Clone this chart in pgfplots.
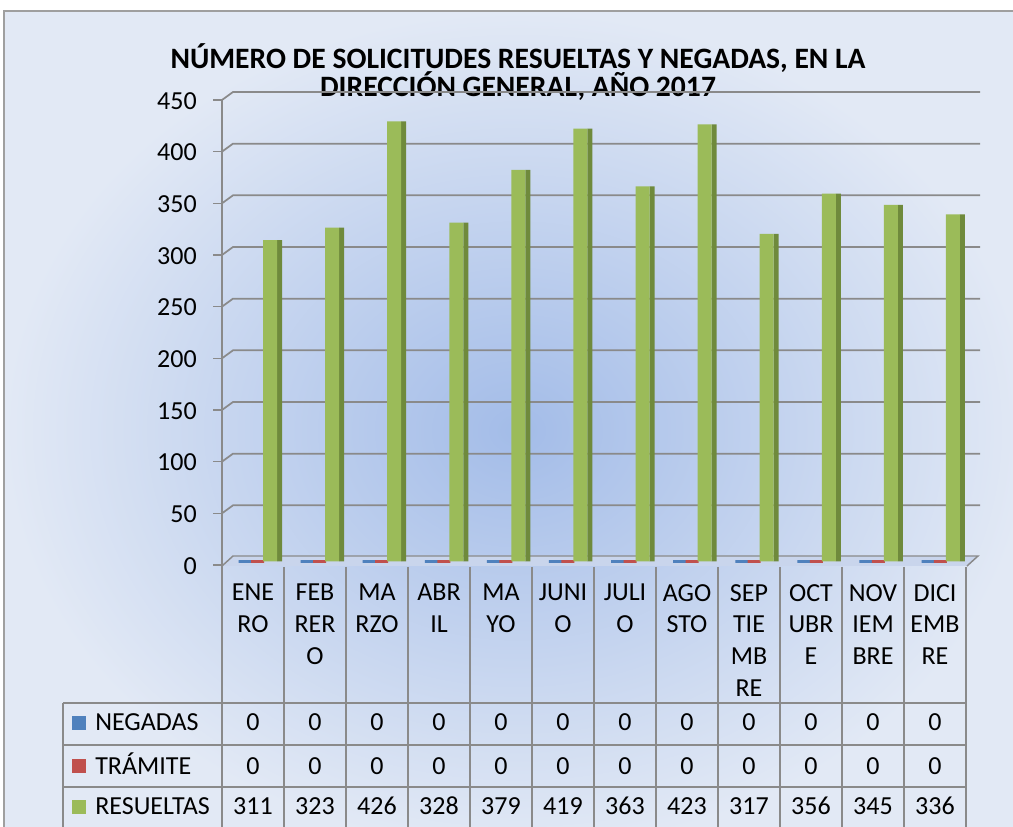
\documentclass[border=0pt]{standalone}
\usepackage{pgfplots}
\pgfplotsset{compat=1.18}
\usepackage{pgfplotstable}
\usepackage{fontspec}
\setmainfont{Carlito}
\definecolor{neg}{HTML}{4F81BD}
\definecolor{tra}{HTML}{C0504D}
\definecolor{res}{HTML}{9BBB59}
\definecolor{resside}{HTML}{6F8A3C}
\definecolor{bgC}{HTML}{A3BCE8}
\definecolor{bgE}{HTML}{E2E9F5}
\definecolor{gridC}{HTML}{8A8A8A}
\definecolor{floorC}{HTML}{C9D5EC}
\newcommand{\IP}[2]{({(#1)*0.75pt},{(827-(#2))*0.75pt})}
\pgfplotstableread{
i neg tra res
0 0 0 311
1 0 0 323
2 0 0 426
3 0 0 328
4 0 0 379
5 0 0 419
6 0 0 363
7 0 0 423
8 0 0 317
9 0 0 356
10 0 0 345
11 0 0 336
}\data
\begin{document}
\fontsize{19.5}{23.8}\selectfont
\begin{tikzpicture}
\useasboundingbox (0,0) rectangle (759.75pt,620.25pt);
\begin{scope}
\clip (0,0) rectangle (759.75pt,620.25pt);
\fill[white] (0,0) rectangle (759.75pt,620.25pt);
\shade[inner color=bgC, outer color=bgE] \IP{4}{11} rectangle \IP{1030}{850};
\draw[gray!75, line width=1.3pt] \IP{4}{850} -- \IP{4}{11} -- \IP{1030}{11};
\end{scope}
% title
\node[anchor=base, inner sep=0pt, font=\fontsize{22.2}{20}\selectfont\bfseries] at \IP{518}{69} {NÚMERO DE SOLICITUDES RESUELTAS Y NEGADAS, EN LA};
\node[anchor=base, inner sep=0pt, font=\fontsize{22.2}{20}\selectfont\bfseries] at \IP{518}{97} {DIRECCIÓN GENERAL, AÑO 2017};
% floor
\fill[floorC] \IP{222}{566} -- \IP{233}{556} -- \IP{978}{556} -- \IP{967}{566} -- cycle;
\draw[gridC, line width=1.1pt] \IP{222}{566} -- \IP{233}{556} -- \IP{978}{556} -- \IP{967}{566};
% gridlines (3D back wall) and ticks
\foreach \v in {50,100,...,450} {
  \pgfmathsetmacro\yf{565-\v*1.03333}
  \pgfmathsetmacro\yb{\yf-8}
  \draw[gridC, line width=1.3pt] \IP{222}{\yf} -- \IP{233}{\yb} -- \IP{980}{\yb};
}
\foreach \v in {0,50,...,450} {
  \pgfmathsetmacro\yf{565-\v*1.03333}
  \draw[gridC, line width=1.1pt] \IP{213}{\yf} -- \IP{222}{\yf};
}
\draw[gridC, line width=1.3pt] \IP{222}{100} -- \IP{222}{830};
\begin{axis}[
  at={(170.625pt,199.125pt)}, anchor=south west,
  scale only axis, width=558.75pt, height=348.75pt,
  xmin=-0.5, xmax=11.5, ymin=0, ymax=450,
  axis line style={draw=none}, major tick length=0pt,
  xtick=\empty, ytick={0,50,...,450},
  yticklabel style={anchor=east, inner sep=0pt, xshift=-22.9pt, yshift=-3.2pt},
  /pgf/number format/assume math mode=true,
  clip=false,
]
\addplot[ybar, bar width=9.75pt, bar shift=-10.1pt, fill=neg, draw=neg, line width=1.8pt] table[x=i, y=neg] {\data};
\addplot[ybar, bar width=9.75pt, bar shift=-0.75pt, fill=tra, draw=tra, line width=1.8pt] table[x=i, y=tra] {\data};
\addplot[ybar, bar width=3.75pt, bar shift=15.75pt, fill=resside, draw=none] table[x=i, y=res] {\data};
\addplot[ybar, bar width=10.5pt, bar shift=8.6pt, fill=res, draw=none] table[x=i, y=res] {\data};
\end{axis}
% data table
\foreach \k in {1,...,12} {
  \pgfmathsetmacro\xx{222+62*\k}
  \draw[gridC, line width=1.3pt] \IP{\xx}{567} -- \IP{\xx}{830};
}
\draw[gridC, line width=1.3pt] \IP{63}{703} -- \IP{63}{830};
\foreach \yy in {703,745,787} {
  \draw[gridC, line width=1.3pt] \IP{63}{\yy} -- \IP{967}{\yy};
}
\foreach \k/\t in {0/{ENE\\RO},1/{FEB\\RER\\O},2/{MA\\RZO},3/{ABR\\IL},4/{MA\\YO},5/{JUNI\\O},6/{JULI\\O},7/{AGO\\STO},8/{SEP\\TIE\\MB\\RE},9/{OCT\\UBR\\E},10/{NOV\\IEM\\BRE},11/{DICI\\EMB\\RE}} {
  \pgfmathsetmacro\cx{253+62*\k}
  \node[anchor=north, align=center, inner sep=0pt] at \IP{\cx}{584} {\t};
}
\foreach \k/\n in {0/311,1/323,2/426,3/328,4/379,5/419,6/363,7/423,8/317,9/356,10/345,11/336} {
  \pgfmathsetmacro\cx{253+62*\k}
  \node[anchor=base, inner sep=0pt] at \IP{\cx}{731} {0};
  \node[anchor=base, inner sep=0pt] at \IP{\cx}{775} {0};
  \node[anchor=base, inner sep=0pt] at \IP{\cx}{815} {\n};
}
\fill[neg] \IP{72}{716} rectangle \IP{86}{730};
\fill[tra] \IP{72}{759} rectangle \IP{86}{773};
\fill[res] \IP{72}{800} rectangle \IP{86}{814};
\node[anchor=base west, inner sep=0pt] at \IP{95}{731} {NEGADAS};
\node[anchor=base west, inner sep=0pt] at \IP{95}{775} {TRÁMITE};
\node[anchor=base west, inner sep=0pt] at \IP{95}{815} {RESUELTAS};
\end{tikzpicture}
\end{document}
